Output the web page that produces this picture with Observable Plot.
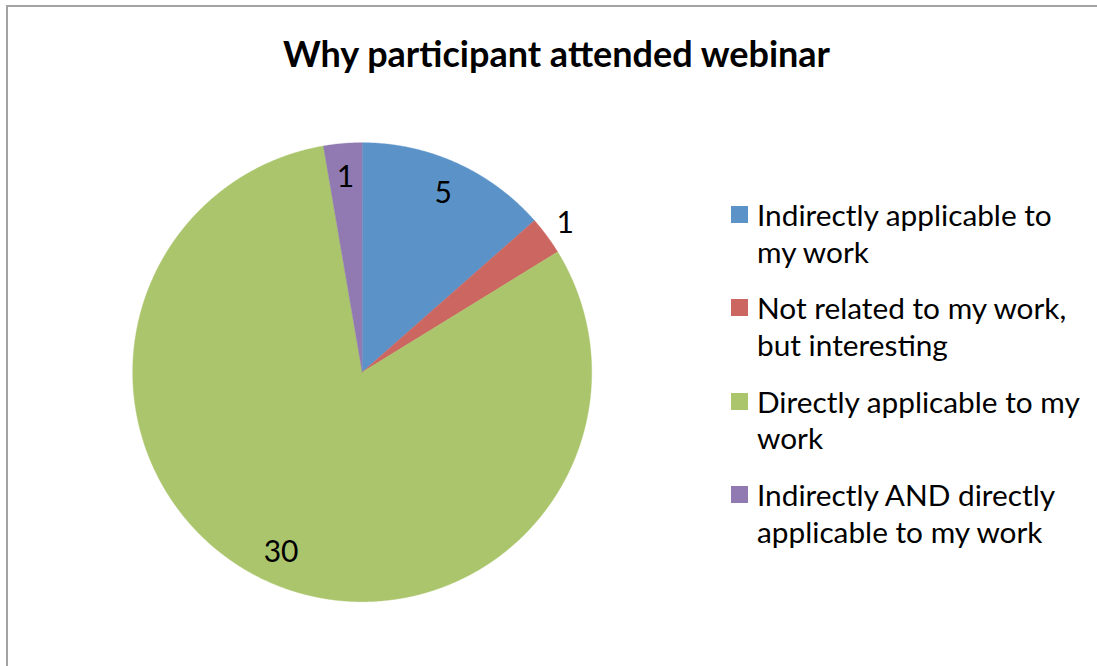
<!DOCTYPE html>
<html>
<head>
<meta charset="utf-8">
<script src="https://cdn.jsdelivr.net/npm/d3@7"></script>
<script src="https://cdn.jsdelivr.net/npm/@observablehq/plot@0.6"></script>
<style>
  html, body { margin: 0; padding: 0; background: #fff; overflow: hidden; }
  #wrap { position: relative; width: 1097px; height: 666px; overflow: hidden; font-family: Lato, "Open Sans", sans-serif; color: #000; }
  #frame { position: absolute; left: 6px; top: 5px; width: 1200px; height: 800px; border-top: 2px solid #a3a3a3; border-left: 2px solid #a3a3a3; box-sizing: border-box; }
  #title { position: absolute; left: 0; width: 1113px; top: 31px; text-align: center; font-weight: 700; font-size: 36px; line-height: 44px; }
  #chart { position: absolute; left: 0; top: 0; }
  #legend { position: absolute; left: 731px; top: 197px; }
  .item { position: relative; padding-left: 26px; font-size: 29.8px; line-height: 36.5px; height: 93.4px; }
  .sw { position: absolute; left: 0; top: 9px; width: 17px; height: 17px; }
</style>
</head>
<body>
<div id="wrap">
  <div id="frame"></div>
  <div id="chart"></div>
  <div id="title"></div>
  <div id="legend"></div>
</div>
<script>
// ---- data ----
const title = "Why participant attended webinar";
const categories = [
  "Indirectly applicable to my work",
  "Not related to my work, but interesting",
  "Directly applicable to my work",
  "Indirectly AND directly applicable to my work"
];
const legendLines = [
  ["Indirectly applicable to", "my work"],
  ["Not related to my work,", "but interesting"],
  ["Directly applicable to my", "work"],
  ["Indirectly AND directly", "applicable to my work"]
];
const values = [5, 1, 30, 1];
const colors = ["#5b93c8", "#cc6660", "#abc56d", "#9179b1"];

// ---- layout ----
const W = 1097, H = 666;
const cx = 361.7, cy = 371.7, R = 229.5;

const pie = d3.pie().sort(null).value(d => d.value)(categories.map((c, i) => ({cat: c, value: values[i]})));

// polygon points for each slice (unit circle, angle 0 at top, clockwise)
const pts = [];
for (const s of pie) {
  pts.push({cat: s.data.cat, x: 0, y: 0});
  const n = Math.max(2, Math.ceil((s.endAngle - s.startAngle) / 0.005));
  for (let k = 0; k <= n; k++) {
    const a = s.startAngle + (s.endAngle - s.startAngle) * k / n;
    pts.push({cat: s.data.cat, x: Math.sin(a), y: Math.cos(a)});
  }
  pts.push({cat: s.data.cat, x: 0, y: 0});
}

// labels: inside for most slices, just outside for the thin slice on the right
const labels = pie.map((s, i) => {
  const a = (s.startAngle + s.endAngle) / 2;
  const r = (i === 1) ? 1.10 : 0.858;
  return {cat: s.data.cat, value: s.data.value, x: r * Math.sin(a), y: r * Math.cos(a)};
});

const plot = Plot.plot({
  width: W, height: H,
  margin: 0,
  x: {domain: [-1, 1], range: [cx - R, cx + R], axis: null},
  y: {domain: [-1, 1], range: [cy + R, cy - R], axis: null},
  color: {domain: categories, range: colors},
  style: {background: "transparent", fontFamily: "Lato, 'Open Sans', sans-serif"},
  marks: [
    Plot.line(pts, {x: "x", y: "y", z: "cat", fill: "cat", stroke: "cat", strokeWidth: 0.4, curve: "linear"}),
    Plot.text(labels, {x: "x", y: "y", text: d => String(d.value), fontSize: 30, fill: "#000", textAnchor: "middle", dy: 1})
  ]
});
document.getElementById("chart").appendChild(plot);

document.getElementById("title").textContent = title;

const leg = document.getElementById("legend");
categories.forEach((c, i) => {
  const item = document.createElement("div");
  item.className = "item";
  const sw = document.createElement("div");
  sw.className = "sw";
  sw.style.background = colors[i];
  item.appendChild(sw);
  legendLines[i].forEach(t => {
    const line = document.createElement("div");
    line.textContent = t;
    item.appendChild(line);
  });
  leg.appendChild(item);
});
</script>
</body>
</html>
